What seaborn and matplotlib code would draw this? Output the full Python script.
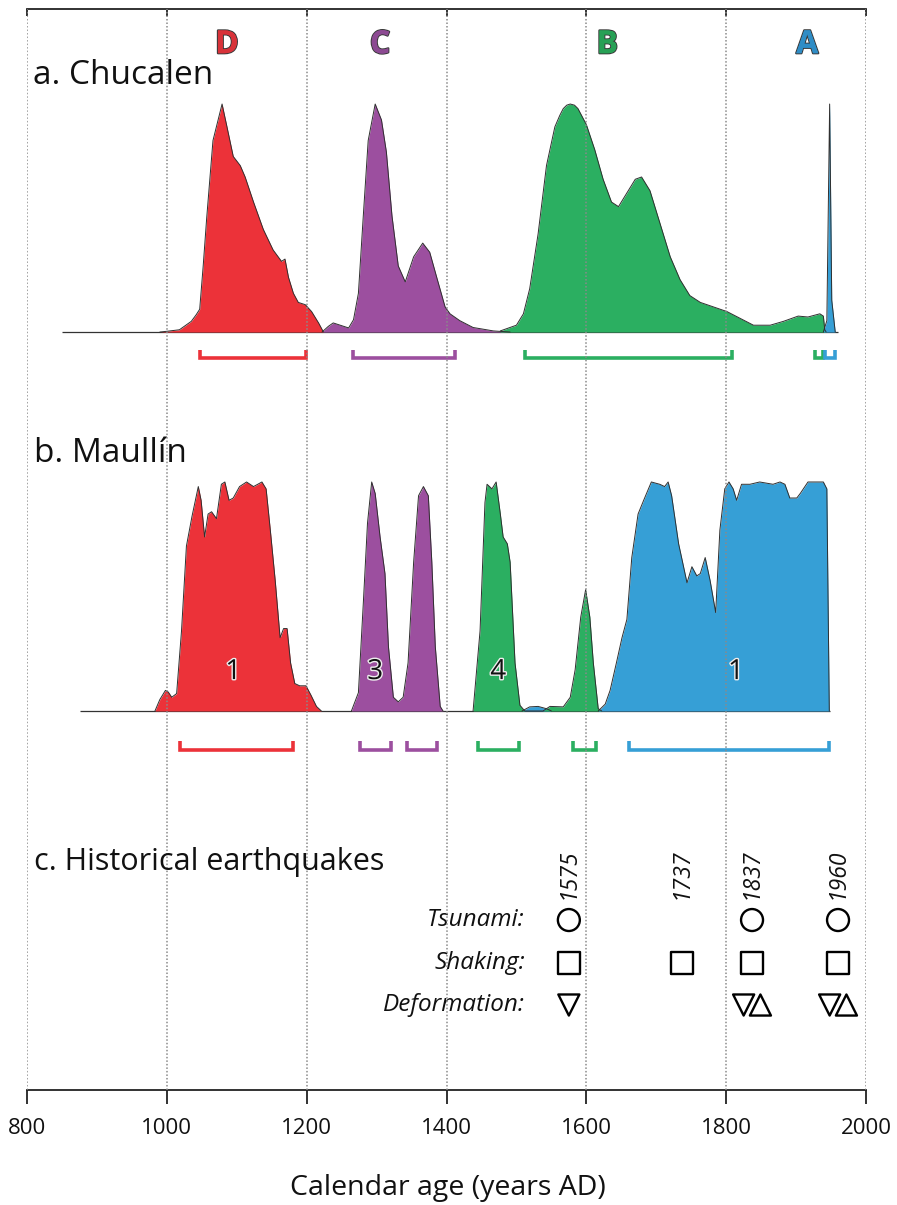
import matplotlib
matplotlib.use('Agg')
import matplotlib.pyplot as plt
import matplotlib.patheffects as pe
import numpy as np
import pandas as pd
import seaborn as sns

########### DATA ##################################
# a. Chucalen - relative probability (peak = 1)
red_a_x = [990, 999, 1018, 1035, 1042, 1047, 1052, 1057, 1066, 1079, 1086, 1095, 1105, 1112, 1124,
           1138, 1152, 1164, 1169, 1174, 1181, 1188, 1198, 1207, 1217, 1224]
red_a_y = [0, 0.003, 0.01, 0.047, 0.076, 0.10, 0.29, 0.50, 0.84, 1.0, 0.90, 0.77, 0.73, 0.68, 0.57,
           0.45, 0.36, 0.31, 0.32, 0.24, 0.17, 0.13, 0.12, 0.09, 0.04, 0]
pur_a_x = [1222, 1231, 1238, 1248, 1260, 1267, 1274, 1281, 1288, 1298, 1307, 1314, 1322, 1331, 1341,
           1353, 1366, 1376, 1386, 1398, 1405, 1419, 1438, 1467, 1491]
pur_a_y = [0, 0.025, 0.04, 0.03, 0.018, 0.054, 0.17, 0.51, 0.84, 1.0, 0.93, 0.79, 0.51, 0.29, 0.22,
           0.33, 0.39, 0.35, 0.24, 0.11, 0.08, 0.05, 0.02, 0.005, 0]
grn_a_x = [1477, 1500, 1510, 1519, 1531, 1543, 1555, 1562, 1567, 1572, 1577, 1583, 1588, 1600, 1612,
           1624, 1636, 1646, 1658, 1670, 1679, 1691, 1705, 1720, 1734, 1748, 1763, 1782, 1801, 1820,
           1839, 1863, 1882, 1903, 1917, 1934, 1939, 1941, 1943]
grn_a_y = [0.005, 0.03, 0.08, 0.19, 0.43, 0.73, 0.90, 0.95, 0.98, 0.995, 1.0, 0.995, 0.98, 0.91, 0.80,
           0.67, 0.57, 0.55, 0.61, 0.67, 0.68, 0.62, 0.48, 0.33, 0.23, 0.16, 0.13, 0.11, 0.09, 0.06,
           0.03, 0.03, 0.047, 0.07, 0.066, 0.08, 0.07, 0.01, 0]
blu_a_x = [1939, 1944, 1948, 1951, 1956]
blu_a_y = [0, 0.05, 1.0, 0.14, 0]

# b. Maullin
red_b_x = [983, 990, 998, 1002, 1007, 1014, 1021, 1028, 1036, 1045, 1049, 1054, 1059, 1064, 1071,
           1078, 1083, 1089, 1095, 1104, 1114, 1124, 1136, 1142, 1148, 1155, 1162, 1167, 1172, 1177,
           1183, 1190, 1199, 1206, 1214, 1221]
red_b_y = [0, 0.05, 0.09, 0.083, 0.06, 0.076, 0.35, 0.72, 0.85, 0.98, 0.92, 0.76, 0.86, 0.87, 0.84,
           0.99, 1.0, 0.92, 0.93, 0.98, 1.0, 0.98, 1.0, 0.97, 0.79, 0.57, 0.32, 0.36, 0.36, 0.21,
           0.12, 0.11, 0.11, 0.07, 0.02, 0]
pur_b_x = [1264, 1274, 1281, 1287, 1293, 1298, 1305, 1312, 1317, 1324, 1331, 1338, 1345, 1353, 1360,
           1367, 1374, 1379, 1384, 1391, 1395]
pur_b_y = [0, 0.08, 0.47, 0.82, 1.0, 0.95, 0.76, 0.60, 0.28, 0.06, 0.04, 0.06, 0.21, 0.65, 0.94,
           0.98, 0.94, 0.65, 0.28, 0.02, 0]
blu_b_small_x = [1508, 1519, 1531, 1543, 1550]
blu_b_small_y = [0, 0.018, 0.02, 0.01, 0]
grn_b_x = [1438, 1448, 1455, 1458, 1465, 1471, 1477, 1481, 1487, 1491, 1498, 1505, 1512, 1538, 1548,
           1567, 1577, 1584, 1592, 1599, 1605, 1610, 1617, 1622]
grn_b_y = [0, 0.35, 0.91, 0.99, 0.97, 1.0, 0.86, 0.76, 0.73, 0.65, 0.21, 0.025, 0, 0, 0.02,
           0.018, 0.06, 0.18, 0.41, 0.53, 0.41, 0.21, 0.01, 0]
blu_b_x = [1617, 1627, 1634, 1643, 1651, 1658, 1665, 1674, 1682, 1693, 1705, 1712, 1717, 1722, 1732,
           1744, 1751, 1758, 1763, 1770, 1777, 1785, 1791, 1798, 1804, 1810, 1815, 1822, 1834, 1848,
           1867, 1877, 1884, 1891, 1901, 1906, 1917, 1929, 1939, 1944, 1947.5]
blu_b_y = [0, 0.03, 0.09, 0.21, 0.32, 0.40, 0.67, 0.86, 0.92, 1.0, 0.99, 0.98, 1.0, 0.94, 0.73,
           0.56, 0.63, 0.59, 0.60, 0.67, 0.57, 0.43, 0.79, 0.97, 1.0, 0.97, 0.92, 0.99, 0.99, 1.0,
           0.99, 1.0, 0.99, 0.93, 0.93, 0.95, 1.0, 1.0, 1.0, 0.97, 0]

# record extents (baseline) and age ranges (brackets)
base_a = (850, 1960)
base_b = (876, 1948)
brackets_a = [(1047, 1199, 'red'), (1266, 1412, 'purple'), (1512, 1808, 'green'),
              (1927, 1939, 'green'), (1941, 1956, 'blue')]
brackets_b = [(1019, 1181, 'red'), (1276, 1320, 'purple'), (1344, 1386, 'purple'),
              (1445, 1503, 'green'), (1581, 1614, 'green'), (1661, 1947, 'blue')]

events_a = ['D', 'C', 'B', 'A']
events_a_x = [1086, 1305, 1630, 1916]
events_a_col = ['red', 'purple', 'green', 'blue']
counts_b = ['1', '3', '4', '1']
counts_b_x = [1095, 1298, 1474, 1814]

# c. Historical earthquakes
quake_years = [1575, 1737, 1837, 1960]
rows = ['Tsunami:', 'Shaking:', 'Deformation:']
tsunami_years = [1575, 1837, 1960]
shaking_years = [1575, 1737, 1837, 1960]
subsidence_years = [1575, 1837, 1960]
uplift_years = [1837, 1960]

ticks = [800, 1000, 1200, 1400, 1600, 1800, 2000]

colors = {'red': '#EC3239', 'purple': '#9C4F9F', 'green': '#2BAF61', 'blue': '#369FD6'}
label_colors = {'red': '#D8333A', 'purple': '#8C4A92', 'green': '#27A055', 'blue': '#2F8DC6'}

########### STYLE ##################################
sns.set_style('white')
plt.rcParams['font.family'] = ['Open Sans', 'DejaVu Sans']

W, H = 897, 1205
fig = plt.figure(figsize=(W / 100, H / 100), dpi=100)


def box(top, bottom):
    return [27 / W, 1 - bottom / H, (866 - 27) / W, (bottom - top) / H]


ax_a = fig.add_axes(box(9, 400))
ax_b = fig.add_axes(box(400, 790))
ax_c = fig.add_axes(box(790, 1090))

for ax in (ax_a, ax_b, ax_c):
    ax.set_xlim(800, 2000)
    for s in ax.spines.values():
        s.set_visible(False)
    ax.set_yticks([])
    ax.set_xticks(ticks)
    ax.tick_params(axis='x', length=0, labelbottom=False)
    for t in ticks:
        ax.axvline(t, color='#8a8a8a', lw=1.1, ls=(0, (1, 1.3)), zorder=6)

ax_a.set_ylim(-0.298, 1.4167)
ax_b.set_ylim(-0.345, 1.358)
ax_c.set_ylim(4.0, -3.06)


def draw_pdf(ax, x, y, col):
    ax.fill_between(x, y, 0, color=colors[col], lw=0, zorder=2)
    sns.lineplot(x=x, y=y, ax=ax, color='#2f2f2f', lw=0.7, sort=False, zorder=3)


# a. Chucalen
ax_a.hlines(0, *base_a, color='#333333', lw=0.9, zorder=1)
draw_pdf(ax_a, red_a_x, red_a_y, 'red')
draw_pdf(ax_a, pur_a_x, pur_a_y, 'purple')
draw_pdf(ax_a, grn_a_x, grn_a_y, 'green')
draw_pdf(ax_a, blu_a_x, blu_a_y, 'blue')

# b. Maullin
ax_b.hlines(0, *base_b, color='#333333', lw=0.9, zorder=1)
draw_pdf(ax_b, red_b_x, red_b_y, 'red')
draw_pdf(ax_b, pur_b_x, pur_b_y, 'purple')
draw_pdf(ax_b, blu_b_small_x, blu_b_small_y, 'blue')
draw_pdf(ax_b, grn_b_x, grn_b_y, 'green')
draw_pdf(ax_b, blu_b_x, blu_b_y, 'blue')


def draw_brackets(ax, brs, base, top):
    for x0, x1, col in brs:
        ax.plot([x0, x0, x1, x1], [top, base, base, top], color=colors[col], lw=2.6,
                solid_joinstyle='miter', solid_capstyle='butt', zorder=4)


draw_brackets(ax_a, brackets_a, -0.114, -0.079)
draw_brackets(ax_b, brackets_b, -0.170, -0.131)

for lab, x, col in zip(events_a, events_a_x, events_a_col):
    ax_a.text(x, 1.26, lab, color=label_colors[col], fontsize=23, fontweight='bold',
              ha='center', va='center', zorder=7,
              path_effects=[pe.withStroke(linewidth=1.6, foreground='#3a3a3a'),
                            pe.Normal()])

for lab, x in zip(counts_b, counts_b_x):
    ax_b.text(x, 0.17, lab, color='#111111', fontsize=20, ha='center', va='center', zorder=7,
              path_effects=[pe.withStroke(linewidth=2, foreground='#eeeeee')])

# c. Historical earthquakes
mk = dict(facecolor='none', edgecolor='black', linewidth=1.7, legend=False, zorder=5)
sns.scatterplot(x=tsunami_years, y=[0] * len(tsunami_years), marker='o', s=250, ax=ax_c, **mk)
sns.scatterplot(x=shaking_years, y=[1] * len(shaking_years), marker='s', s=250, ax=ax_c, **mk)
sub_x = [y - 12 if y in uplift_years else y for y in subsidence_years]
sns.scatterplot(x=sub_x, y=[2] * len(sub_x), marker='v', s=230, ax=ax_c, **mk)
sns.scatterplot(x=[y + 12 for y in uplift_years], y=[2] * len(uplift_years), marker='^', s=230,
                ax=ax_c, **mk)

for i, r in enumerate(rows):
    ax_c.text(1512, i, r, ha='right', va='center', fontsize=17.5, style='italic', color='#111111')

for yr in quake_years:
    ax_c.text(yr, -0.5, str(yr), rotation=90, ha='center', va='bottom', fontsize=16.5,
              style='italic', color='#111111')

# panel titles
fig.text(33 / W, 1 - 75 / H, 'a. Chucalen', fontsize=24, va='center', ha='left', color='#111111')
fig.text(34 / W, 1 - 453 / H, 'b. Maullín', fontsize=24, va='center', ha='left', color='#111111')
fig.text(34 / W, 1 - 862 / H, 'c. Historical earthquakes', fontsize=22, va='center', ha='left',
         color='#111111')

# axes lines
ax_a.spines['top'].set_visible(True)
ax_a.spines['top'].set_linewidth(1.3)
ax_a.spines['top'].set_color('#222222')
ax_a.xaxis.set_ticks_position('top')
ax_a.tick_params(axis='x', which='both', top=True, direction='in', length=5, width=1.3,
                 labeltop=False, color='#222222')

ax_c.spines['bottom'].set_visible(True)
ax_c.spines['bottom'].set_linewidth(1.3)
ax_c.spines['bottom'].set_color('#222222')
ax_c.tick_params(axis='x', bottom=True, direction='out', length=10, width=1.3, pad=10,
                 labelbottom=True, labelsize=16, color='#222222', labelcolor='#111111')
ax_c.set_xticklabels([str(t) for t in ticks])
fig.text(448 / W, 1 - 1188 / H, 'Calendar age (years AD)', fontsize=20.5, ha='center',
         va='center', color='#111111')

plt.savefig('out.png', dpi=100)
